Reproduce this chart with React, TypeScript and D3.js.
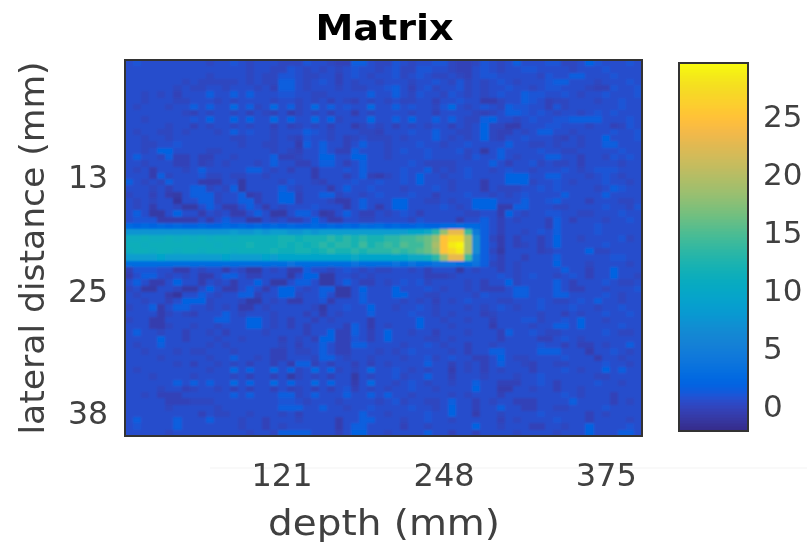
import React from "react";
import * as d3 from "d3";

const titleText = "Matrix";
const xLabelText = "depth (mm)";
const yLabelText = "lateral distance (mm)";
const xTicks = [121, 248, 375];
const yTicks = [13, 25, 38];
const barTicks = [0, 5, 10, 15, 20, 25];
const depthDomain = [-2, 403];
const lateralDomain = [0.6, 40.4];
const barDomain = [-2.15, 29.6];

// Level codes, value of each code below.
const levelCodes = "0123456789abcdefghijklmnopqrstuvwxyz";
const levelValues = [-1.2, -0.9, -0.6, -0.2, 0.1, 0.55, 1.0, 1.5, 2.0, 2.5, 2.9, 3.5, 4.5, 5.5, 6.5, 7.5, 8.5, 9.5, 10.2, 10.9, 11.5, 12.2, 13.2, 14.2, 15.2, 16.2, 17.2, 18.2, 19.2, 20, 21, 23, 25, 27, 28.5, 29.3];

const matrixRows = [
"56555555 55455654 55544465 54337754 46545566 43346545 75556644 58655565",
"55555555 55555554 55446545 45456554 56446655 43356545 56655554 55565555",
"55555555 55455554 54466544 55356545 56456544 54356655 55546557 75556555",
"55555554 54444454 54477545 65354554 55545565 46454565 45556775 55455565",
"55555545 44554555 45377545 55454455 67535645 56454556 55456655 54336556",
"55454535 55755757 55566554 45555575 57546554 65454565 57665565 45565556",
"55455544 55545455 55455454 53543545 45445535 56552245 57653445 55455655",
"54555455 75755957 45957459 57565595 57565546 95456547 66553645 55555655",
"55555554 35455453 54352454 53552545 55545535 55543457 76565455 45656555",
"55455555 65855858 55958559 58455595 57585575 75447855 45655667 77755565",
"55555455 35455454 55353454 53552454 53545455 35458442 25556655 54553465",
"54554454 55545756 55455576 54555443 55565575 54458433 54577554 55556556",
"55455455 55555445 55454365 54534544 45455575 45458435 56555435 45585556",
"55445565 55555545 54455275 75535755 45556554 55655557 55445455 45577555",
"55458855 55445555 55454355 75337555 45655655 56451575 55565544 55555655",
"57554733 53355455 55733455 88558855 45555655 55465575 45557755 35546565",
"55455533 53454555 45755335 77535755 55565444 45555753 55645445 35555455",
"54525554 57555557 75453552 55565755 55655745 45655456 55455565 45666555",
"55527455 56445445 54555552 55535732 45658554 55655558 88557755 54565455",
"75454755 52225515 55546554 35556556 55658555 45552558 88455654 55565545",
"55545355 77454715 55575455 52575565 55455565 45552544 45565655 55457655",
"45535215 77745572 35588355 77455456 55565535 55655454 56555575 55575555",
"54545505 57745577 35588355 54225755 58855445 45588855 57556755 53555445",
"54525541 15752257 52545556 55525752 58855556 54588822 77555445 55565546",
"57511585 52545225 75115775 12575335 45653555 55445528 54556655 44555655",
"56662222 25257551 15453358 52255445 55546555 52557535 45553753 55545565",
"98989898 89889898 98989889 89898a9a 89889889 9a997535 55553755 55655555",
"ffffffff fffffgff gfggffgf gggggggg ggghhimr vvnc7535 54565755 55655555",
"jjkjjkjk jkjkkjkk kkkllkll lmlmlmll mmnnoprw xxse7425 35535855 45555645",
"kkjkkkkk kkkjkkkl kkklklkl mlmmlnlm nmonnpsw yzse7525 34535855 55565555",
"jkkjkkjk kjkkkjkk kklkkllk lmllmlmm mnmnoprw xyse7415 55534555 58445555",
"gggghggg gggghggg ghghhhhh hhhhihhh hhhiijmr vvnc7535 53555755 55556655",
"aaaaaaaa aaaaaaaa aaaabaaa aaaabaaa ababaabb baab7435 45555855 54555545",
"36665522 54552541 15452275 54565454 45545355 51545535 45555575 53558555",
"25775454 52257753 35551588 11554545 55555333 45555565 45655456 53558554",
"57522585 52545255 85115775 11575335 45656455 55453558 45555753 55565445",
"45115541 15852257 52588545 77115855 58555654 55453335 77555753 35545556",
"54555205 57545577 35588455 75115755 58855445 55546555 77555775 55565455",
"55455358 88455541 15452255 62555755 55454535 45655544 55565445 65755455",
"45572577 55454522 54555554 15565585 54556545 55454565 45565556 55455655",
"55552454 35557545 55455535 25455575 55565545 45553455 55545535 45565565",
"45522555 55577558 85453553 54555525 55558554 55455355 56645565 85545555",
"55522455 45545558 85453535 55537525 45558555 45555255 55455775 85555655",
"57554553 55453555 54555535 58337535 85545535 55455537 55654455 55565445",
"55558553 55545545 55535453 88336535 85555445 45555535 55533565 45555555",
"54557555 55454555 55545355 75337755 55455654 55355455 55565535 33545575",
"55455545 44555455 55335445 75335554 54565555 45355775 55577755 52556545",
"55554555 55455755 45335554 77545545 55455645 65533585 44555565 55255455",
"55555545 35545453 55352773 53553535 45555755 35453575 54355445 55565545",
"54555555 55455958 55958459 58454595 56545455 25453545 55355565 45585755",
"55545555 45555453 55351454 53551545 56455755 35554555 45565555 55445555",
"55555575 75755958 55958559 58552595 54565455 45575533 35565355 55655455",
"55554553 45545353 55353453 53563545 45565545 55585522 55455355 45555555",
"55453335 55555757 55577457 55575575 75545555 45455535 55555565 45553555",
"55555333 44455555 55566545 55455554 56455445 75535455 33355557 55553545",
"55555455 55545555 55577755 75545565 55565545 85535575 53355445 55565555",
"55555555 53544554 55545355 55555755 45555655 85525545 55565555 53545555",
"57555575 55755545 53555455 55255775 55455655 45555535 45555655 53555545",
"56555575 55555545 53545555 55257755 55355455 55585545 55335545 58555565",
"55555455 55555554 55477775 55358855 45555755 35535555 45555455 58555775",
];

const parulaStops = [
[.2081,.1663,.5292],[.2116,.1898,.5777],[.2123,.2138,.6270],[.2081,.2386,.6771],[.1959,.2645,.7279],[.1707,.2919,.7792],[.1253,.3242,.8303],[.0591,.3598,.8683],
[.0117,.3875,.8820],[.0060,.4086,.8828],[.0165,.4266,.8786],[.0329,.4430,.8720],[.0498,.4586,.8641],[.0629,.4737,.8554],[.0723,.4887,.8467],[.0779,.5040,.8384],
[.0793,.5200,.8312],[.0749,.5375,.8263],[.0641,.5570,.8240],[.0488,.5772,.8228],[.0343,.5966,.8199],[.0265,.6137,.8135],[.0239,.6287,.8038],[.0231,.6418,.7913],
[.0228,.6535,.7768],[.0267,.6642,.7607],[.0384,.6743,.7436],[.0590,.6838,.7254],[.0843,.6928,.7062],[.1133,.7015,.6859],[.1453,.7098,.6646],[.1801,.7177,.6424],
[.2178,.7250,.6193],[.2586,.7317,.5954],[.3022,.7376,.5712],[.3482,.7424,.5473],[.3953,.7459,.5244],[.4420,.7481,.5033],[.4871,.7491,.4840],[.5300,.7491,.4661],
[.5709,.7485,.4494],[.6099,.7473,.4337],[.6473,.7456,.4188],[.6834,.7435,.4044],[.7184,.7411,.3905],[.7525,.7384,.3768],[.7858,.7356,.3633],[.8185,.7327,.3498],
[.8507,.7299,.3360],[.8824,.7274,.3217],[.9139,.7258,.3063],[.9450,.7261,.2886],[.9739,.7314,.2666],[.9938,.7455,.2403],[.9990,.7653,.2164],[.9955,.7861,.1967],
[.9880,.8066,.1794],[.9789,.8271,.1633],[.9697,.8481,.1475],[.9626,.8705,.1309],[.9589,.8949,.1132],[.9598,.9218,.0948],[.9661,.9514,.0755],[.9763,.9831,.0538],
];

const parulaColors = parulaStops.map(([r, g, b]) => d3.rgb(r * 255, g * 255, b * 255).formatHex());
const parula = d3.piecewise(d3.interpolateRgb, parulaColors);

const grid = matrixRows.map((row) =>
  row.replace(/ /g, "").split("").map((ch) => levelValues[levelCodes.indexOf(ch)])
);
const nRows = grid.length;
const nCols = grid[0].length;

const plot = { x0: 125, x1: 642, y0: 60, y1: 436 };
const bar = { x0: 679, x1: 748, y0: 63, y1: 431 };

const colX = d3.scaleBand<number>().domain(d3.range(nCols)).range([plot.x0, plot.x1]);
const rowY = d3.scaleBand<number>().domain(d3.range(nRows)).range([plot.y0, plot.y1]);
const depthScale = d3.scaleLinear().domain(depthDomain).range([plot.x0, plot.x1]);
const lateralScale = d3.scaleLinear().domain(lateralDomain).range([plot.y0, plot.y1]);
const barScale = d3.scaleLinear().domain(barDomain).range([bar.y1, bar.y0]);
const color = d3.scaleSequential(parula).domain(barDomain);

const textColor = "#404040";
const family = "'DejaVu Sans', sans-serif";

export default function App() {
  const barSteps = d3.range(0, bar.y1 - bar.y0, 1.5);
  return (
    <svg
      width={807}
      height={545}
      style={{ position: "absolute", left: 0, top: 0, filter: "blur(0.6px)" }}
      fontFamily={family}
    >
      <defs>
        <filter id="soft" x="0" y="0" width="1" height="1">
          <feGaussianBlur stdDeviation="1.1" />
        </filter>
        <clipPath id="plotClip">
          <rect x={plot.x0} y={plot.y0} width={plot.x1 - plot.x0} height={plot.y1 - plot.y0} />
        </clipPath>
      </defs>
      <rect width={807} height={545} fill="#fff" />
      <line x1={210} x2={807} y1={468} y2={468} stroke="#f3f3f3" strokeWidth={1} />
      <rect x={plot.x0} y={plot.y0} width={plot.x1 - plot.x0} height={plot.y1 - plot.y0} fill={color(levelValues[5])} />
      <g clipPath="url(#plotClip)">
        <g filter="url(#soft)" shapeRendering="crispEdges">
          {grid.map((row, r) =>
            row.map((v, c) => (
              <rect
                key={`${r}-${c}`}
                x={colX(c)}
                y={rowY(r)}
                width={colX.bandwidth() + 0.4}
                height={rowY.bandwidth() + 0.4}
                fill={color(v)}
              />
            ))
          )}
        </g>
      </g>
      <rect x={plot.x0} y={plot.y0} width={plot.x1 - plot.x0} height={plot.y1 - plot.y0} fill="none" stroke="#333" strokeWidth={2} />

      {xTicks.map((t) => (
        <text key={t} x={depthScale(t)} y={486} fontSize={32} fill={textColor} textAnchor="middle">{t}</text>
      ))}
      {yTicks.map((t) => (
        <text key={t} x={108} y={lateralScale(t) + 11} fontSize={31.5} fill={textColor} textAnchor="end">{t}</text>
      ))}

      <g shapeRendering="crispEdges">
        {barSteps.map((d) => (
          <rect key={d} x={bar.x0} y={bar.y1 - d - 1.5} width={bar.x1 - bar.x0} height={2} fill={color(barScale.invert(bar.y1 - d - 0.75))} />
        ))}
      </g>
      <rect x={bar.x0} y={bar.y0} width={bar.x1 - bar.x0} height={bar.y1 - bar.y0} fill="none" stroke="#333" strokeWidth={2} />
      {barTicks.map((t) => (
        <text key={t} x={763} y={barScale(t) + 11} fontSize={31} fill={textColor}>{t}</text>
      ))}

      <text x={384.5} y={40} fontSize={36} fontWeight="bold" fill="#000" textAnchor="middle" textLength={138} lengthAdjust="spacingAndGlyphs">{titleText}</text>
      <text x={384} y={535} fontSize={36} fill={textColor} textAnchor="middle" textLength={232} lengthAdjust="spacingAndGlyphs">{xLabelText}</text>
      <text transform="translate(44,248) rotate(-90)" fontSize={34} fill={textColor} textAnchor="middle" textLength={373} lengthAdjust="spacingAndGlyphs">{yLabelText}</text>
    </svg>
  );
}
